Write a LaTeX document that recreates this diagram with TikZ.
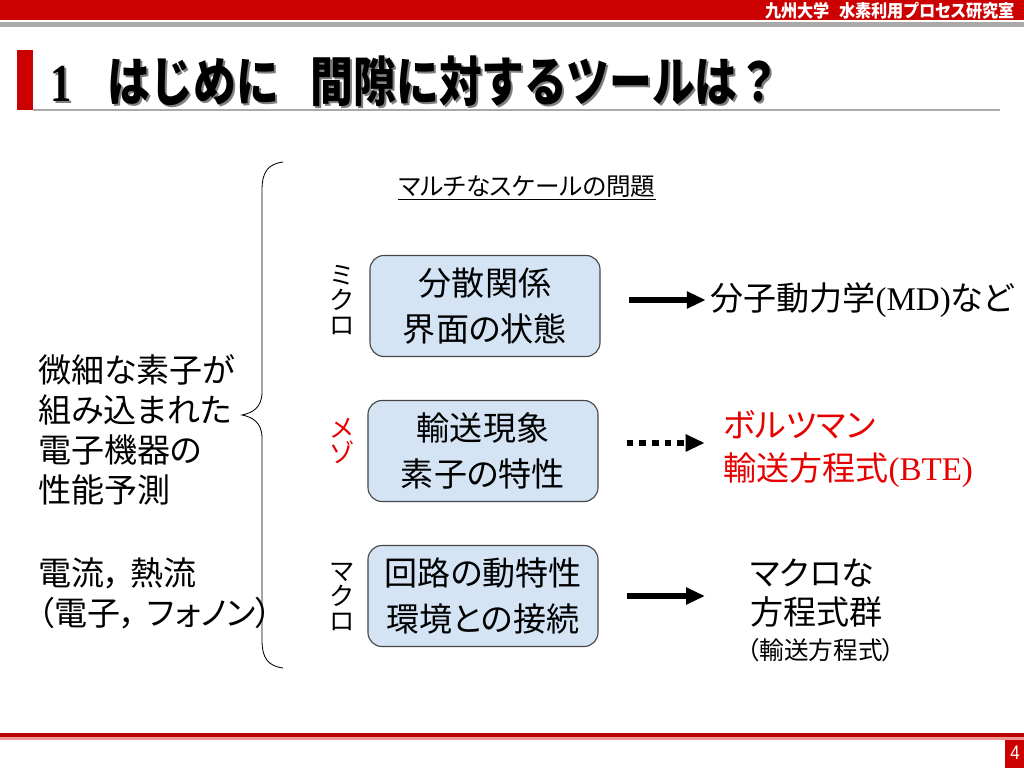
\documentclass[tikz,border=0pt]{standalone}
\usepackage{fontspec}
\setmainfont{Noto Sans CJK JP}[RawFeature=+palt]
\newfontfamily\titlefont{Noto Sans CJK JP}
\newfontfamily\serifrm{Liberation Serif}
\newfontfamily\numfont{Liberation Sans}
\usetikzlibrary{arrows.meta,positioning}

\definecolor{slidered}{RGB}{204,0,0}
\definecolor{darkred}{RGB}{185,0,0}
\definecolor{pinkline}{RGB}{240,150,150}
\definecolor{rulegray}{RGB}{170,170,170}
\definecolor{boxblue}{RGB}{212,228,245}
\definecolor{boxedge}{RGB}{70,70,70}
\definecolor{bteRed}{RGB}{230,0,0}

\newcommand{\titlestring}{{\serifrm\bfseries 1}\hspace{0.85em}はじめに\hspace{0.75em}間隙に対するツールは？}

\begin{document}
\begin{tikzpicture}[x=0.025cm,y=-0.025cm,
  scalebox/.style={draw=boxedge,line width=0.8pt,fill=boxblue,rounded corners=10pt,
    minimum width=5.75cm,minimum height=2.525cm,inner sep=0pt,align=center,
    font=\fontsize{23.5}{32.5}\selectfont},
  vlabel/.style={align=center,inner sep=0pt,font=\fontsize{18}{18}\selectfont},
  bigtext/.style={align=left,inner sep=0pt,font=\fontsize{23.5}{28.4}\selectfont},
  titletext/.style={anchor=base west,inner sep=0pt,xscale=0.8,font=\titlefont\fontsize{38}{44}\selectfont\bfseries},
  bigarrow/.style={line width=4.3pt,-{Triangle[length=13.5pt,width=11.5pt]}},
  dotarrow/.style={bigarrow,dash pattern=on 4.7pt off 4.3pt}]

\useasboundingbox[fill=white] (0,0) rectangle (1024,768);

% Header bar
\fill[slidered] (0,0) rectangle (1024,20);
\fill[rulegray] (0,22) rectangle (1024,27);
\node[anchor=east,text=white,inner sep=0pt,xscale=0.92,font=\fontsize{12.5}{14}\selectfont\bfseries] (lab) at (1015,11) {九州大学\hspace{0.6em}水素利用プロセス研究室};

% Title
\fill[slidered] (17,50) rectangle (33,110);
\draw[rulegray,line width=1.5pt] (33,110) -- (1000,110);
\node[titletext,text=gray] (titleshadow) at (52,104) {\titlestring};
\node[titletext] (title) at (50,102) {\titlestring};

% Subtitle
\node[inner sep=0pt,font=\fontsize{17.5}{20}\selectfont] (scale) at (527,188) {\underline{マルチなスケールの問題}};

% Boxes
\node[scalebox] (micro) at (485,306) {分散関係\\界面の状態};
\node[scalebox] (meso) at (483,451) {輸送現象\\素子の特性};
\node[scalebox] (macro) at (483,596) {回路の動特性\\環境との接続};

% Scale labels
\node[vlabel] (microlbl) at (342,300) {ミ\\ク\\ロ};
\node[vlabel,text=bteRed] (mesolbl) at (342,441) {メ\\ゾ};
\node[vlabel] (macrolbl) at (342,597) {マ\\ク\\ロ};

% Left texts
\node[bigtext,anchor=west] (device) at (38,430) {微細な素子が\\組み込まれた\\電子機器の\\性能予測};
\node[bigtext,anchor=west] (flow) at (38,593) {電流，\hspace{0.3em}熱流\\（電子，\hspace{0.3em}フォノン）};

% Brace
\draw[line width=0.6pt] (283,162) .. controls (268,164) and (262,172) .. (262,190) -- (262,392)
  .. controls (262,408) and (252,413) .. (242,415) .. controls (252,417) and (262,422) .. (262,438)
  -- (262,640) .. controls (262,658) and (268,666) .. (283,668);

% Right texts
\node[bigtext,anchor=west] (md) at (710,300) {分子動力学{\serifrm (MD)}など};
\node[bigtext,anchor=west,text=bteRed,font=\fontsize{23.5}{30}\selectfont] (bte) at (723,449) {ボルツマン\\輸送方程式{\serifrm (BTE)}};
\node[bigtext,anchor=west,font=\fontsize{23.5}{27.6}\selectfont] (eqs) at (750,593) {マクロな\\方程式群};
\node[inner sep=0pt,anchor=west,font=\fontsize{17.5}{20}\selectfont] (eqsnote) at (747,650) {（輸送方程式）};

% Arrows
\draw[bigarrow,shorten <=20pt,shorten >=3pt] (micro.east |- md.west) -- (md.west);
\draw[dotarrow,shorten <=20pt,shorten >=13pt] ([yshift=5.7pt]meso.east) -- ([yshift=5.7pt]meso.east -| bte.west);
\draw[bigarrow,shorten <=20pt,shorten >=32pt] (macro.east) -- (macro.east -| eqs.west);

% Footer
\fill[darkred] (0,733) rectangle (1024,737);
\fill[pinkline] (0,737) rectangle (1024,740);
\fill[slidered] (1005,740) rectangle (1024,768);
\node[text=white,inner sep=0pt,xscale=0.85,font=\numfont\fontsize{14}{16}\selectfont] (page) at (1015,753) {4};

\end{tikzpicture}
\end{document}
